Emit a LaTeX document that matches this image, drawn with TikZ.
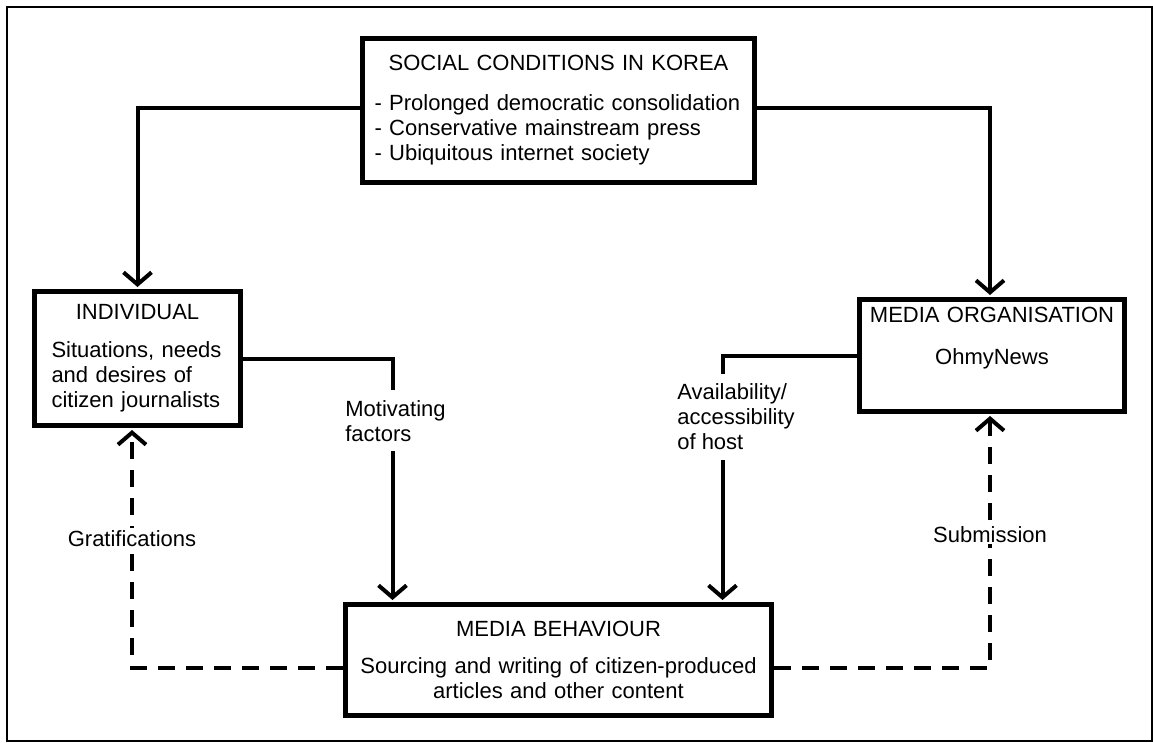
\documentclass[tikz,border=0pt]{standalone}
\usepackage{fontspec}
\setmainfont{Liberation Sans}
\usetikzlibrary{arrows.meta}
\setlength\parindent{0pt}
\begin{document}
\begin{tikzpicture}[x=1pt,y=-1pt,
  every node/.style={font=\fontsize{22}{25}\selectfont},
  box/.style={draw, line width=5pt, inner sep=0pt, fill=white},
  conn/.style={line width=4pt, shorten >=2pt, -{Straight Barb[length=12pt,width=28pt]}},
  dconn/.style={conn, dash pattern=on 17pt off 11pt},
  lbl/.style={fill=white, inner xsep=2pt, inner ysep=10pt, align=left}]
\useasboundingbox (0,0) rectangle (1153,742);
\draw[line width=2.5pt] (7,7) rectangle (1152,741);

\node[box, minimum width=392pt, minimum height=144pt, text width=368pt, align=left] (soc) at (558.5,110.5)
 {{\centering SOCIAL CONDITIONS IN KOREA\par}\vspace{15pt}- Prolonged democratic consolidation\par - Conservative mainstream press\par - Ubiquitous internet society};

\node[box, minimum width=206pt, minimum height=134pt, text width=172pt, align=left] (ind) at (137.5,358.5)
 {{\centering INDIVIDUAL\par}\vspace{13pt}Situations, needs\par and desires of\par citizen journalists};

\node[box, minimum width=265pt, minimum height=112pt, text width=250pt, align=center] (org) at (992,355.5)
 {MEDIA ORGANISATION\par\vspace{17pt}OhmyNews\par\vspace{34pt}\hrule height 0pt};

\node[box, minimum width=426pt, minimum height=111pt, text width=410pt, align=center] (mb) at (558.5,660)
 {MEDIA BEHAVIOUR\par\vspace{12pt}Sourcing and writing of citizen-produced\par articles and other content};

\draw[conn] ([yshift=2.5pt]soc.west) -| (ind.north);
\draw[conn] ([yshift=2.5pt]soc.east) -| ([xshift=-2pt]org.north);

\draw[conn] (ind.east) -| node[lbl, pos=0.628, xshift=3pt] (mot) {Motivating\\factors} ([xshift=49.5pt]mb.north west);
\draw[conn] (org.west) -| node[lbl, pos=0.625, xshift=13.5pt] (avl) {Availability/\\accessibility\\of host} ([xshift=379.5pt]mb.north west);

\draw[dconn] ([yshift=-8pt]mb.west) -| node[lbl, pos=0.77, inner ysep=2pt] (gra) {Gratifications} ([xshift=-5.5pt]ind.south);
\draw[dconn] ([yshift=-8pt]mb.east) -| node[lbl, pos=0.763, inner ysep=2pt] (sub) {Submission} ([xshift=-2pt]org.south);
\end{tikzpicture}
\end{document}
